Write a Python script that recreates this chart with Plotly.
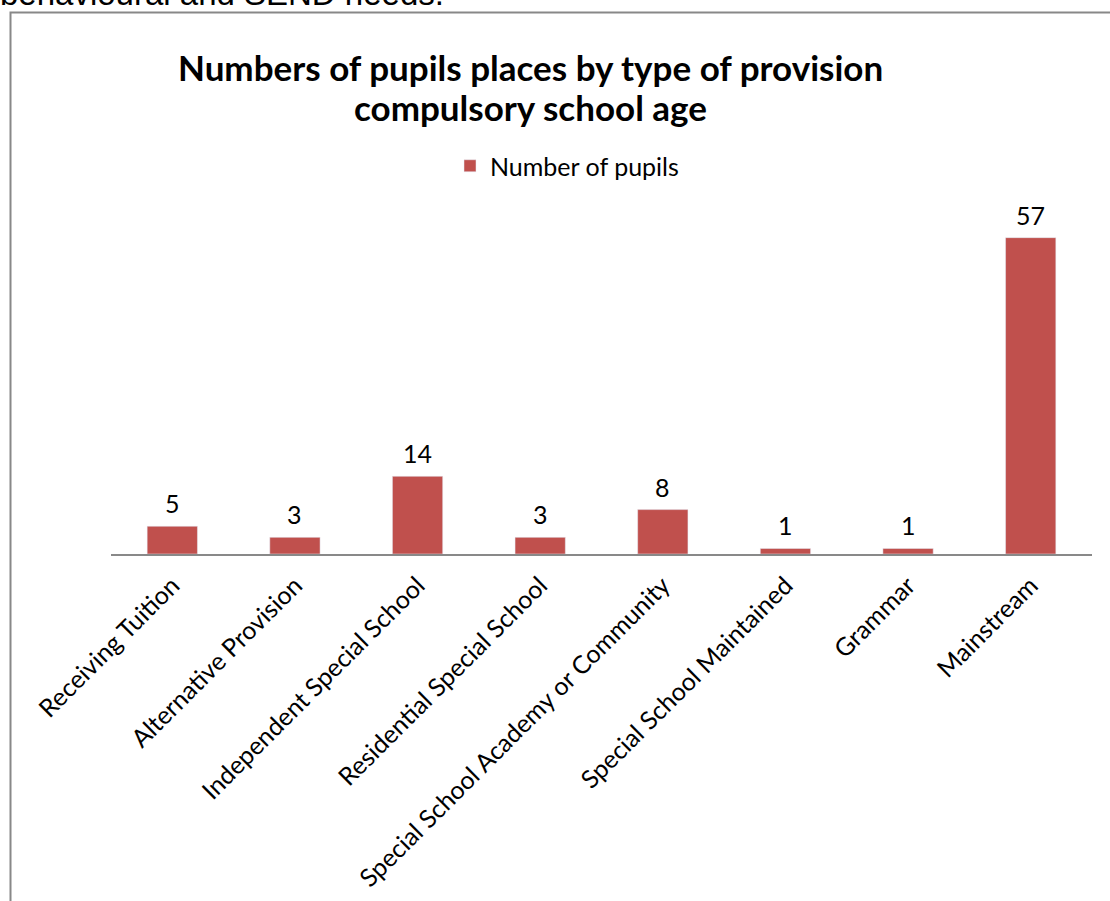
import plotly.graph_objects as go

categories = ["Receiving Tuition", "Alternative Provision", "Independent Special School",
              "Residential Special School", "Special School Academy or Community",
              "Special School Maintained", "Grammar", "Mainstream"]
pupils = [5, 3, 14, 3, 8, 1, 1, 57]
series_name = "Number of pupils"
title_lines = ["Numbers of pupils places by type of provision", "compulsory school age"]
header_text = "behavioural and SEND needs."

W, H = 1110, 901
BAR = "#C0504D"
FONT = "Lato, 'Open Sans', sans-serif"

def px(x):
    return x / W

def py(y):
    return 1 - y / H

fig = go.Figure()
fig.add_trace(go.Bar(
    x=categories, y=pupils, name=series_name, marker_color=BAR,
    showlegend=True, hoverinfo="x+y",
))

for c, v in zip(categories, pupils):
    fig.add_annotation(x=c, y=v, xref="x", yref="y", text=str(v), showarrow=False,
                       yanchor="bottom", yshift=6, font=dict(family=FONT, size=25, color="#000000"))

for line, mid in zip(title_lines, [67, 107]):
    fig.add_annotation(x=px(530), y=py(mid), xref="paper", yref="paper",
                       text="<b>" + line + "</b>", showarrow=False,
                       xanchor="center", yanchor="middle", align="center",
                       font=dict(family=FONT, size=35, color="#000000"))

fig.add_annotation(x=px(-2), y=py(14), xref="paper", yref="paper", text=header_text,
                   showarrow=False, xanchor="left", yanchor="bottom",
                   font=dict(family="'Liberation Sans', Arial, sans-serif", size=33, color="#000000"))

fig.add_shape(type="rect", xref="paper", yref="paper", x0=px(10.5), x1=1.2, y0=-0.2, y1=py(12.5),
              line=dict(color="#888888", width=2), fillcolor="rgba(0,0,0,0)", layer="above")

fig.update_layout(
    width=W, height=H,
    margin=dict(l=0, r=0, t=0, b=0, autoexpand=False),
    paper_bgcolor="#FFFFFF", plot_bgcolor="#FFFFFF",
    bargap=0.59,
    font=dict(family=FONT, size=24, color="#000000"),
    showlegend=True,
    legend=dict(x=px(450), y=py(166), xanchor="left", yanchor="middle", orientation="h",
                font=dict(family=FONT, size=25, color="#000000"), bgcolor="rgba(0,0,0,0)"),
    xaxis=dict(domain=[px(111), px(1092)], showgrid=False, zeroline=False, automargin=False,
               showline=True, linecolor="#898989", linewidth=2, ticks="",
               ticklabelstandoff=5,
               tickangle=-45, tickfont=dict(family=FONT, size=25, color="#000000")),
    yaxis=dict(domain=[py(554), py(221)], range=[0, 60], visible=False, showgrid=False,
               automargin=False),
)

fig.write_html("out.html")
